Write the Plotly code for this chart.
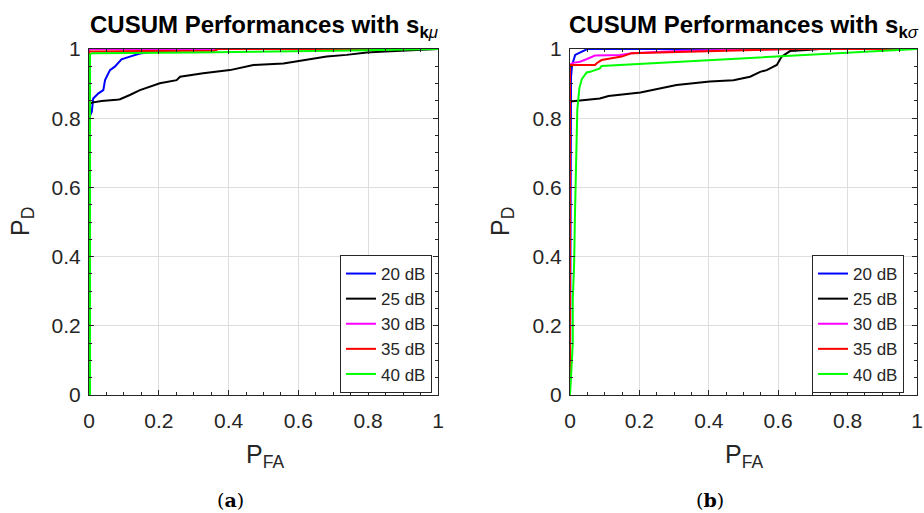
import plotly.graph_objects as go

W, H = 924, 513

series_names = ["20 dB", "25 dB", "30 dB", "35 dB", "40 dB"]
series_colors = ["#0000ff", "#000000", "#ff00ff", "#ff0000", "#00ff00"]

# ---- (a) CUSUM with s_k_mu ----
a20_x = [0, 0.0, 0.008, 0.012, 0.027, 0.041, 0.046, 0.06, 0.074, 0.093, 0.117, 0.146, 0.183, 0.237, 0.3, 1.0]
a20_y = [0, 0.80, 0.819, 0.857, 0.872, 0.881, 0.91, 0.939, 0.949, 0.970, 0.978, 0.987, 0.992, 0.995, 1.0, 1.0]
a25_x = [0, 0, 0.008, 0.036, 0.079, 0.089, 0.117, 0.146, 0.203, 0.251, 0.261, 0.327, 0.404, 0.471, 0.557,
         0.624, 0.681, 0.738, 0.796, 0.834, 0.9, 1.0]
a25_y = [0, 0.84, 0.845, 0.850, 0.853, 0.855, 0.867, 0.881, 0.901, 0.910, 0.920, 0.930, 0.939, 0.954, 0.958,
         0.968, 0.978, 0.983, 0.990, 0.992, 0.996, 1.0]
a30_x = [0, 0, 0.005, 1.0]
a30_y = [0, 0.996, 1.0, 1.0]
a35_x = [0, 0, 0.15, 0.36, 0.37, 1.0]
a35_y = [0, 0.993, 0.994, 0.995, 1.0, 1.0]
a40_x = [0.003, 0.003, 0.01, 0.3, 0.7, 1.0]
a40_y = [0, 0.985, 0.988, 0.99, 0.995, 1.0]

# ---- (b) CUSUM with s_k_sigma ----
b20_x = [0, 0.002, 0.003, 0.006, 0.015, 0.03, 0.05, 1.0]
b20_y = [0, 0.6, 0.92, 0.954, 0.983, 0.99, 1.0, 1.0]
b25_x = [0, 0, 0.086, 0.111, 0.203, 0.24, 0.307, 0.403, 0.471, 0.519, 0.548, 0.567, 0.596, 0.61, 0.634, 0.682, 0.72, 1.0]
b25_y = [0, 0.848, 0.857, 0.864, 0.874, 0.882, 0.896, 0.906, 0.910, 0.920, 0.934, 0.939, 0.954, 0.978, 0.994, 0.997, 1.0, 1.0]
b30_x = [0, 0, 0.008, 0.029, 0.049, 0.072, 0.144, 0.178, 0.222, 0.308, 0.45, 0.64, 1.0]
b30_y = [0, 0.955, 0.96, 0.963, 0.971, 0.981, 0.983, 0.988, 0.990, 0.994, 0.997, 1.0, 1.0]
b35_x = [0, 0, 0.072, 0.077, 0.091, 0.149, 0.178, 0.262, 0.355, 0.5, 0.634, 1.0]
b35_y = [0, 0.954, 0.954, 0.959, 0.968, 0.978, 0.988, 0.990, 0.992, 0.996, 1.0, 1.0]
b40_x = [0, 0.003, 0.008, 0.008, 0.012, 0.014, 0.017, 0.019, 0.021, 0.027, 0.034, 0.048, 0.058, 0.086, 0.091, 1.0]
b40_y = [0, 0.072, 0.149, 0.275, 0.381, 0.506, 0.70, 0.75, 0.824, 0.887, 0.913, 0.932, 0.934, 0.944, 0.951, 1.0]

panel_a = [(a20_x, a20_y), (a25_x, a25_y), (a30_x, a30_y), (a35_x, a35_y), (a40_x, a40_y)]
panel_b = [(b20_x, b20_y), (b25_x, b25_y), (b30_x, b30_y), (b35_x, b35_y), (b40_x, b40_y)]

tick_vals = [0, 0.2, 0.4, 0.6, 0.8, 1]
tick_text = ["0", "0.2", "0.4", "0.6", "0.8", "1"]


def px(x):
    return x / W


def py(y):
    return 1 - y / H


fig = go.Figure()

for i, (xs, ys) in enumerate(panel_a):
    fig.add_trace(go.Scatter(x=xs, y=ys, mode="lines", name=series_names[i],
                             line=dict(color=series_colors[i], width=2),
                             xaxis="x", yaxis="y", legend="legend"))
for i, (xs, ys) in enumerate(panel_b):
    fig.add_trace(go.Scatter(x=xs, y=ys, mode="lines", name=series_names[i],
                             line=dict(color=series_colors[i], width=2),
                             xaxis="x2", yaxis="y2", legend="legend2"))

FONT = "Liberation Sans, Arial, sans-serif"
TXT = "#262626"


def axis_style(domain, anchor, standoff):
    return dict(domain=domain, anchor=anchor, range=[0, 1], tickvals=tick_vals, ticktext=tick_text,
                showgrid=True, gridcolor="#dedede", gridwidth=1, zeroline=False,
                showline=True, linecolor="#262626", linewidth=1, mirror="ticks",
                ticks="inside", ticklen=5, tickcolor="#262626", automargin=False,
                minor=dict(ticks="inside", dtick=0.05, ticklen=3, tickcolor="#262626", showgrid=False),
                tickfont=dict(family=FONT, size=21, color=TXT), fixedrange=True,
                ticklabelstandoff=standoff)


ydom = [py(395), py(49)]
xa = axis_style([px(89), px(438)], "y", 7)
xb = axis_style([px(570), px(917)], "y2", 7)
ya = axis_style(ydom, "x", 3)
yb = axis_style(ydom, "x2", 3)

legend_common = dict(bgcolor="white", bordercolor="#262626", borderwidth=1,
                     font=dict(family=FONT, size=17, color=TXT), xanchor="left", yanchor="top",
                     itemwidth=30, tracegroupgap=0)

fig.update_layout(
    width=W, height=H, margin=dict(l=0, r=0, t=0, b=0, autoexpand=False),
    paper_bgcolor="white", plot_bgcolor="white",
    xaxis=xa, yaxis=ya, xaxis2=xb, yaxis2=yb,
    legend=dict(x=px(340), y=py(255), **legend_common),
    legend2=dict(x=px(812), y=py(255), **legend_common),
    showlegend=True,
)

annots = [
    dict(x=px(264), y=py(27), text="<b>CUSUM Performances with s</b><sub><b>k</b><i>μ</i></sub>",
         font=dict(family=FONT, size=24, color="black")),
    dict(x=px(744), y=py(27), text="<b>CUSUM Performances with s</b><sub><b>k</b><i>σ</i></sub>",
         font=dict(family=FONT, size=24, color="black")),
    dict(x=px(265), y=py(456), text="P<sub>FA</sub>", font=dict(family=FONT, size=25, color=TXT)),
    dict(x=px(744), y=py(456), text="P<sub>FA</sub>", font=dict(family=FONT, size=25, color=TXT)),
    dict(x=px(22), y=py(222), text="P<sub>D</sub>", textangle=-90, font=dict(family=FONT, size=25, color=TXT)),
    dict(x=px(502), y=py(222), text="P<sub>D</sub>", textangle=-90, font=dict(family=FONT, size=25, color=TXT)),
    dict(x=px(230), y=py(500), text="(<b>a</b>)", font=dict(family="DejaVu Serif, serif", size=19, color="black")),
    dict(x=px(710), y=py(500), text="(<b>b</b>)", font=dict(family="DejaVu Serif, serif", size=19, color="black")),
]
for a in annots:
    a.update(xref="paper", yref="paper", showarrow=False, xanchor="center", yanchor="middle")
    fig.add_annotation(**a)

fig.write_html("out.html")
